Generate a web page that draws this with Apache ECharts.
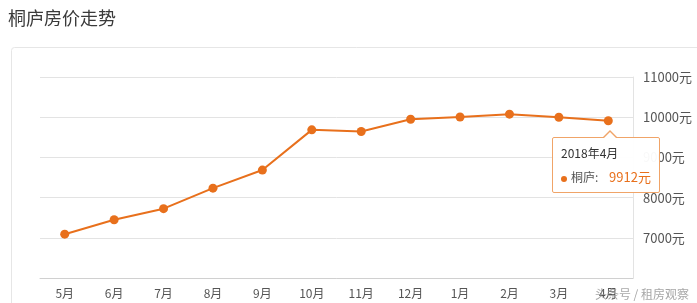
<!DOCTYPE html>
<html>
<head>
<meta charset="utf-8">
<script src="https://cdn.jsdelivr.net/npm/echarts@6/dist/echarts.min.js"></script>
<style>
html,body{margin:0;padding:0;background:#fff;}
#chart{width:697px;height:303px;}
.tipbox{overflow:visible !important;}
.tipbox::before{content:"";position:absolute;left:49px;top:-8px;width:0;height:0;border-left:8px solid transparent;border-right:8px solid transparent;border-bottom:8px solid #f0a468;}
.tipbox::after{content:"";position:absolute;left:50px;top:-6px;width:0;height:0;border-left:7px solid transparent;border-right:7px solid transparent;border-bottom:7px solid #fff;}
</style>
</head>
<body>
<div id="chart"></div>
<script>
var titleText = '桐庐房价走势';
var categories = ['2017年5月','2017年6月','2017年7月','2017年8月','2017年9月','2017年10月','2017年11月','2017年12月','2018年1月','2018年2月','2018年3月','2018年4月'];
var seriesName = '桐庐';
var prices = [7090, 7450, 7725, 8235, 8685, 9685, 9645, 9950, 10005, 10075, 10000, 9912];
var yTicks = [6000, 7000, 8000, 9000, 10000, 11000];
var watermark = '头条号 / 租房观察';

var FONT = '"Noto Sans CJK SC", "Noto Sans", sans-serif';
var ORANGE = '#e8701c';
var chart = echarts.init(document.getElementById('chart'));
chart.setOption({
  animation: false,
  backgroundColor: '#fff',
  textStyle: { fontFamily: FONT },
  title: {
    text: titleText, left: 3, top: 4,
    textStyle: { fontSize: 18, fontWeight: 'normal', color: '#3a3a3a', fontFamily: FONT }
  },
  graphic: [
    { type: 'rect', shape: { x: 11.5, y: 47.5, width: 720, height: 300, r: 3 },
      style: { fill: 'none', stroke: '#e6e6e6', lineWidth: 1 }, z: -10 },
    { type: 'text', right: 8, bottom: 3,
      style: { text: watermark, fill: 'rgba(150,150,150,0.85)', font: '12px ' + FONT }, z: 100 }
  ],
  grid: { left: 40, right: 64, top: 77, bottom: 25 },
  tooltip: {
    trigger: 'item',
    alwaysShowContent: true,
    className: 'tipbox',
    backgroundColor: 'rgba(255,255,255,0.96)',
    borderColor: '#f0a468',
    borderWidth: 1,
    padding: [6, 8, 6, 8],
    extraCssText: 'border-radius:2px;box-shadow:none;',
    textStyle: { fontFamily: FONT },
    position: function (p) { return [p[0] - 56, p[1] + 16]; },
    formatter: function (params) {
      return '<div style="font-size:12px;color:#333;line-height:18px;padding-bottom:6px">' + params.name + '</div>' +
        '<div style="font-size:12px;line-height:18px;color:#555">' +
        '<span style="display:inline-block;width:6px;height:6px;border-radius:3px;background:' + ORANGE + ';margin-right:4px;vertical-align:middle"></span>' +
        params.seriesName + ':&nbsp;&nbsp;&nbsp;&nbsp;<span style="color:' + ORANGE + ';font-size:13px">' + params.value + '元</span></div>';
    }
  },
  xAxis: {
    type: 'category',
    data: categories,
    boundaryGap: true,
    axisLine: { lineStyle: { color: '#d0d0d0', width: 1 } },
    axisTick: { alignWithLabel: true, length: 3, lineStyle: { color: '#e0e0e0' } },
    axisLabel: {
      color: '#555', fontSize: 12, margin: 9, fontFamily: FONT,
      formatter: function (v) { return v.split('年')[1]; }
    },
    splitLine: { show: false }
  },
  yAxis: {
    type: 'value',
    position: 'right',
    min: yTicks[0], max: yTicks[yTicks.length - 1], interval: 1000,
    axisLine: { show: true, lineStyle: { color: '#e3e3e3' } },
    axisTick: { show: false },
    axisLabel: {
      showMinLabel: false, color: '#555', fontSize: 13, margin: 10, fontFamily: FONT,
      formatter: function (v) { return v + '元'; }
    },
    splitLine: { lineStyle: { color: '#e3e3e3', width: 1 } }
  },
  series: [{
    name: seriesName,
    type: 'line',
    data: prices,
    symbol: 'circle',
    symbolSize: 9,
    lineStyle: { color: ORANGE, width: 2 },
    itemStyle: { color: ORANGE },
    emphasis: { disabled: true }
  }]
});
chart.dispatchAction({ type: 'showTip', seriesIndex: 0, dataIndex: prices.length - 1 });
</script>
</body>
</html>
